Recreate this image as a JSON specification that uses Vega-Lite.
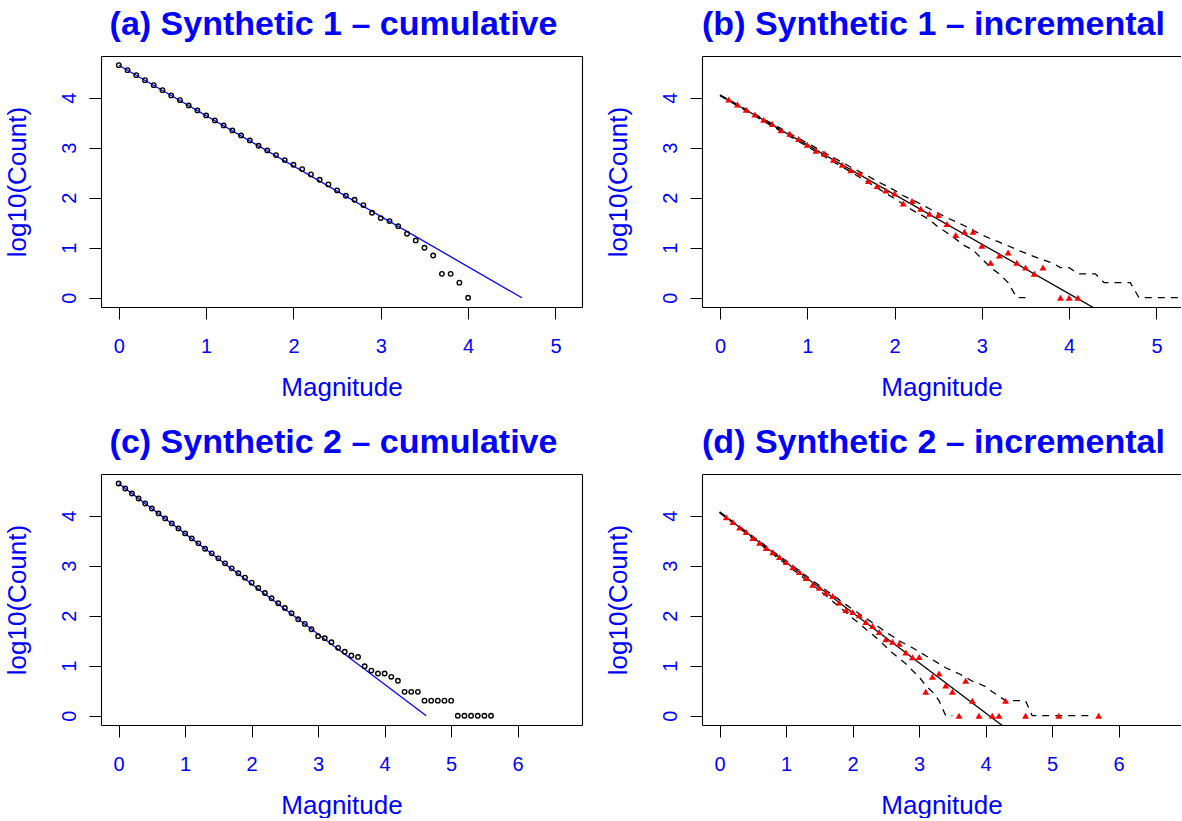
{
  "$schema": "https://vega.github.io/schema/vega-lite/v6.json",
  "padding": {"left": 4, "top": 7, "right": 0, "bottom": 0},
  "autosize": {"type": "pad"},
  "background": "white",
  "config": {
    "view": {"stroke": null},
    "font": "Liberation Sans",
    "axis": {"grid": false, "domainColor": "black", "domainWidth": 1.1, "tickColor": "black", "tickWidth": 1, "tickSize": 12, "labelColor": "#0000ff", "labelFont": "Liberation Sans", "labelFontSize": 20, "titleColor": "#0000ff", "titleFont": "Liberation Sans", "titleFontSize": 26, "titleFontWeight": "normal", "labelOverlap": false, "labelFlush": false},
    "axisX": {"labelBaseline": "alphabetic", "labelPadding": 33, "labelAngle": 0, "titleY": 88, "titleBaseline": "alphabetic"},
    "axisY": {"labelAngle": 270, "labelAlign": "center", "labelBaseline": "alphabetic", "labelPadding": 14, "titleX": -76, "titleAngle": 270, "titleBaseline": "alphabetic", "titleAlign": "center"},
    "title": {"font": "Liberation Sans", "fontSize": 34, "fontWeight": "bold", "color": "#0000ff", "anchor": "middle", "frame": "group", "offset": 14.5, "dx": -8, "baseline": "alphabetic"}
  },
  "bounds": "flush",
  "columns": 2,
  "spacing": {"row": 167, "column": 120},
  "datasets": {
    "cumA": [
      {"x":0.0,"y":4.653},{"x":0.1,"y":4.553},{"x":0.2,"y":4.453},{"x":0.3,"y":4.353},{"x":0.4,"y":4.253},{"x":0.5,"y":4.153},{"x":0.6,"y":4.047},{"x":0.7,"y":3.953},{"x":0.8,"y":3.847},{"x":0.9,"y":3.747},
      {"x":1.0,"y":3.647},{"x":1.1,"y":3.547},{"x":1.2,"y":3.447},{"x":1.3,"y":3.347},{"x":1.4,"y":3.247},{"x":1.5,"y":3.147},{"x":1.6,"y":3.04},{"x":1.7,"y":2.947},{"x":1.8,"y":2.853},{"x":1.9,"y":2.753},
      {"x":2.0,"y":2.66},{"x":2.1,"y":2.573},{"x":2.2,"y":2.467},{"x":2.3,"y":2.36},{"x":2.4,"y":2.267},{"x":2.5,"y":2.147},{"x":2.6,"y":2.04},{"x":2.7,"y":1.96},{"x":2.8,"y":1.853},{"x":2.9,"y":1.70},
      {"x":3.0,"y":1.593},{"x":3.1,"y":1.533},{"x":3.2,"y":1.431},{"x":3.3,"y":1.279},{"x":3.4,"y":1.146},{"x":3.5,"y":1.0},{"x":3.6,"y":0.845},{"x":3.7,"y":0.477},{"x":3.8,"y":0.477},{"x":3.9,"y":0.301},{"x":4.0,"y":0}
    ],
    "lineA": [{"x":0,"y":4.65},{"x":4.615,"y":0}],
    "incB": [
      {"x":0.1,"y":3.967},{"x":0.2,"y":3.867},{"x":0.3,"y":3.76},{"x":0.4,"y":3.667},{"x":0.5,"y":3.561},{"x":0.6,"y":3.474},{"x":0.7,"y":3.348},{"x":0.8,"y":3.281},{"x":0.9,"y":3.175},{"x":1.0,"y":3.062},
      {"x":1.1,"y":2.942},{"x":1.2,"y":2.882},{"x":1.3,"y":2.762},{"x":1.4,"y":2.662},{"x":1.5,"y":2.549},{"x":1.6,"y":2.483},{"x":1.7,"y":2.336},{"x":1.8,"y":2.236},{"x":1.9,"y":2.143},{"x":2.0,"y":2.083},
      {"x":2.1,"y":1.886},{"x":2.2,"y":1.934},{"x":2.3,"y":1.778},{"x":2.4,"y":1.681},{"x":2.5,"y":1.653},{"x":2.6,"y":1.477},{"x":2.7,"y":1.255},{"x":2.8,"y":1.322},{"x":2.9,"y":1.322},{"x":3.0,"y":1.041},
      {"x":3.1,"y":0.699},{"x":3.2,"y":0.845},{"x":3.3,"y":0.903},{"x":3.4,"y":0.699},{"x":3.5,"y":0.602},{"x":3.6,"y":0.477},{"x":3.7,"y":0.602},{"x":3.9,"y":0},{"x":4.0,"y":0},{"x":4.1,"y":0}
    ],
    "fitB": [{"x":0,"y":4.05},{"x":4.6,"y":-0.518}],
    "upB": [
      {"x":0.0,"y":4.058},{"x":0.1,"y":3.962},{"x":0.2,"y":3.865},{"x":0.3,"y":3.768},{"x":0.4,"y":3.672},{"x":0.5,"y":3.576},{"x":0.6,"y":3.479},{"x":0.7,"y":3.383},{"x":0.8,"y":3.286},{"x":0.9,"y":3.189},
      {"x":1.0,"y":3.093},{"x":1.1,"y":2.997},{"x":1.2,"y":2.9},{"x":1.3,"y":2.803},{"x":1.4,"y":2.707},{"x":1.5,"y":2.61},{"x":1.6,"y":2.52},{"x":1.7,"y":2.43},{"x":1.8,"y":2.33},{"x":1.9,"y":2.24},
      {"x":2.0,"y":2.15},{"x":2.1,"y":2.04},{"x":2.2,"y":1.96},{"x":2.3,"y":1.875},{"x":2.4,"y":1.78},{"x":2.5,"y":1.69},{"x":2.6,"y":1.6},{"x":2.7,"y":1.52},{"x":2.8,"y":1.44},{"x":2.9,"y":1.35},
      {"x":3.0,"y":1.255},{"x":3.1,"y":1.18},{"x":3.2,"y":1.11},{"x":3.3,"y":1.04},{"x":3.4,"y":0.96},{"x":3.5,"y":0.89},{"x":3.6,"y":0.82},{"x":3.7,"y":0.76},{"x":3.8,"y":0.7},{"x":3.9,"y":0.602},
      {"x":4.0,"y":0.602},{"x":4.1,"y":0.477},{"x":4.2,"y":0.477},{"x":4.3,"y":0.477},{"x":4.4,"y":0.301},{"x":4.5,"y":0.301},{"x":4.6,"y":0.301},{"x":4.7,"y":0.301},{"x":4.8,"y":0},{"x":4.9,"y":0},
      {"x":5.0,"y":0},{"x":5.1,"y":0},{"x":5.2,"y":0},{"x":5.3,"y":0},{"x":5.4,"y":0},{"x":5.5,"y":0}
    ],
    "loB": [
      {"x":0.0,"y":4.042},{"x":0.1,"y":3.94},{"x":0.2,"y":3.838},{"x":0.3,"y":3.736},{"x":0.4,"y":3.635},{"x":0.5,"y":3.533},{"x":0.6,"y":3.431},{"x":0.7,"y":3.329},{"x":0.8,"y":3.228},{"x":0.9,"y":3.125},
      {"x":1.0,"y":3.024},{"x":1.1,"y":2.922},{"x":1.2,"y":2.82},{"x":1.3,"y":2.718},{"x":1.4,"y":2.617},{"x":1.5,"y":2.516},{"x":1.6,"y":2.411},{"x":1.7,"y":2.307},{"x":1.8,"y":2.198},{"x":1.9,"y":2.088},
      {"x":2.0,"y":1.984},{"x":2.1,"y":1.87},{"x":2.2,"y":1.756},{"x":2.3,"y":1.663},{"x":2.4,"y":1.556},{"x":2.5,"y":1.415},{"x":2.6,"y":1.3},{"x":2.7,"y":1.176},{"x":2.8,"y":1.041},{"x":2.9,"y":0.954},
      {"x":3.0,"y":0.778},{"x":3.1,"y":0.602},{"x":3.2,"y":0.477},{"x":3.3,"y":0.301},{"x":3.4,"y":0},{"x":3.5,"y":0}
    ],
    "cumC": [
      {"x":0.0,"y":4.646},{"x":0.1,"y":4.546},{"x":0.2,"y":4.446},{"x":0.3,"y":4.346},{"x":0.4,"y":4.246},{"x":0.5,"y":4.146},{"x":0.6,"y":4.047},{"x":0.7,"y":3.947},{"x":0.8,"y":3.847},{"x":0.9,"y":3.747},
      {"x":1.0,"y":3.647},{"x":1.1,"y":3.547},{"x":1.2,"y":3.448},{"x":1.3,"y":3.341},{"x":1.4,"y":3.248},{"x":1.5,"y":3.148},{"x":1.6,"y":3.048},{"x":1.7,"y":2.948},{"x":1.8,"y":2.849},{"x":1.9,"y":2.762},
      {"x":2.0,"y":2.662},{"x":2.1,"y":2.556},{"x":2.2,"y":2.456},{"x":2.3,"y":2.349},{"x":2.4,"y":2.249},{"x":2.5,"y":2.156},{"x":2.6,"y":2.05},{"x":2.7,"y":1.93},{"x":2.8,"y":1.837},{"x":2.9,"y":1.73},
      {"x":3.0,"y":1.591},{"x":3.1,"y":1.551},{"x":3.2,"y":1.471},{"x":3.3,"y":1.358},{"x":3.4,"y":1.279},{"x":3.5,"y":1.204},{"x":3.6,"y":1.176},{"x":3.7,"y":0.991},{"x":3.8,"y":0.903},{"x":3.9,"y":0.845},
      {"x":4.0,"y":0.845},{"x":4.1,"y":0.778},{"x":4.2,"y":0.699},{"x":4.3,"y":0.477},{"x":4.4,"y":0.477},{"x":4.5,"y":0.477},{"x":4.6,"y":0.301},{"x":4.7,"y":0.301},{"x":4.8,"y":0.301},{"x":4.9,"y":0.301},
      {"x":5.0,"y":0.301},{"x":5.1,"y":0},{"x":5.2,"y":0},{"x":5.3,"y":0},{"x":5.4,"y":0},{"x":5.5,"y":0},{"x":5.6,"y":0}
    ],
    "lineC": [{"x":0,"y":4.646},{"x":4.625,"y":0}],
    "incD": [
      {"x":0.1,"y":3.973},{"x":0.2,"y":3.874},{"x":0.3,"y":3.767},{"x":0.4,"y":3.674},{"x":0.5,"y":3.554},{"x":0.6,"y":3.461},{"x":0.7,"y":3.354},{"x":0.8,"y":3.268},{"x":0.9,"y":3.175},{"x":1.0,"y":3.075},
      {"x":1.1,"y":2.968},{"x":1.2,"y":2.875},{"x":1.3,"y":2.755},{"x":1.4,"y":2.622},{"x":1.5,"y":2.562},{"x":1.6,"y":2.463},{"x":1.7,"y":2.396},{"x":1.8,"y":2.263},{"x":1.9,"y":2.116},{"x":2.0,"y":2.077},
      {"x":2.1,"y":2.01},{"x":2.2,"y":1.877},{"x":2.3,"y":1.797},{"x":2.4,"y":1.677},{"x":2.5,"y":1.531},{"x":2.6,"y":1.478},{"x":2.7,"y":1.438},{"x":2.8,"y":1.265},{"x":2.9,"y":1.171},{"x":3.0,"y":1.176},
      {"x":3.1,"y":0.477},{"x":3.2,"y":0.778},{"x":3.3,"y":0.845},{"x":3.4,"y":0.602},{"x":3.5,"y":0.477},{"x":3.6,"y":0},{"x":3.7,"y":0.699},{"x":3.8,"y":0.301},{"x":3.9,"y":0},{"x":4.1,"y":0},
      {"x":4.2,"y":0},{"x":4.3,"y":0.301},{"x":4.6,"y":0},{"x":5.1,"y":0},{"x":5.7,"y":0}
    ],
    "fitD": [{"x":0,"y":4.07},{"x":4.5,"y":-0.448}],
    "upD": [
      {"x":0.0,"y":4.078},{"x":0.1,"y":3.98},{"x":0.2,"y":3.881},{"x":0.3,"y":3.783},{"x":0.4,"y":3.684},{"x":0.5,"y":3.587},{"x":0.6,"y":3.489},{"x":0.7,"y":3.39},{"x":0.8,"y":3.292},{"x":0.9,"y":3.193},
      {"x":1.0,"y":3.095},{"x":1.1,"y":2.997},{"x":1.2,"y":2.898},{"x":1.3,"y":2.8},{"x":1.4,"y":2.701},{"x":1.5,"y":2.604},{"x":1.6,"y":2.509},{"x":1.7,"y":2.413},{"x":1.8,"y":2.318},{"x":1.9,"y":2.222},
      {"x":2.0,"y":2.13},{"x":2.1,"y":2.04},{"x":2.2,"y":1.95},{"x":2.3,"y":1.86},{"x":2.4,"y":1.77},{"x":2.5,"y":1.67},{"x":2.6,"y":1.59},{"x":2.7,"y":1.5},{"x":2.8,"y":1.43},{"x":2.9,"y":1.36},
      {"x":3.0,"y":1.28},{"x":3.1,"y":1.2},{"x":3.2,"y":1.12},{"x":3.3,"y":1.04},{"x":3.4,"y":0.96},{"x":3.5,"y":0.9},{"x":3.6,"y":0.84},{"x":3.7,"y":0.77},{"x":3.8,"y":0.69},{"x":3.9,"y":0.64},
      {"x":4.0,"y":0.58},{"x":4.1,"y":0.48},{"x":4.2,"y":0.39},{"x":4.3,"y":0.301},{"x":4.4,"y":0.301},{"x":4.5,"y":0.301},{"x":4.6,"y":0.301},{"x":4.7,"y":0},{"x":4.8,"y":0},{"x":4.9,"y":0},
      {"x":5.0,"y":0},{"x":5.1,"y":0},{"x":5.2,"y":0},{"x":5.3,"y":0},{"x":5.4,"y":0},{"x":5.5,"y":0},{"x":5.6,"y":0}
    ],
    "loD": [
      {"x":0.0,"y":4.062},{"x":0.1,"y":3.959},{"x":0.2,"y":3.855},{"x":0.3,"y":3.752},{"x":0.4,"y":3.648},{"x":0.5,"y":3.545},{"x":0.6,"y":3.442},{"x":0.7,"y":3.338},{"x":0.8,"y":3.235},{"x":0.9,"y":3.131},
      {"x":1.0,"y":3.028},{"x":1.1,"y":2.925},{"x":1.2,"y":2.821},{"x":1.3,"y":2.718},{"x":1.4,"y":2.614},{"x":1.5,"y":2.509},{"x":1.6,"y":2.399},{"x":1.7,"y":2.288},{"x":1.8,"y":2.178},{"x":1.9,"y":2.067},
      {"x":2.0,"y":1.95},{"x":2.1,"y":1.845},{"x":2.2,"y":1.73},{"x":2.3,"y":1.623},{"x":2.4,"y":1.505},{"x":2.5,"y":1.38},{"x":2.6,"y":1.255},{"x":2.7,"y":1.146},{"x":2.8,"y":1.04},{"x":2.9,"y":0.903},
      {"x":3.0,"y":0.778},{"x":3.1,"y":0.602},{"x":3.2,"y":0.477},{"x":3.3,"y":0.301},{"x":3.4,"y":0},{"x":3.5,"y":0}
    ]
  },
  "concat": [
    {
      "width": 481, "height": 251,
      "title": {"text": "(a) Synthetic 1 – cumulative"},
      "resolve": {"axis": {"x": "independent", "y": "independent"}},
      "layer": [
        {
          "data": {"name": "lineA"},
          "mark": {"type": "line", "color": "#0000ff", "strokeWidth": 1.3, "clip": true},
          "encoding": {
            "x": {"field": "x", "type": "quantitative", "scale": {"domain": [-0.204, 5.304], "nice": false, "zero": false}, "axis": {"values": [0, 1, 2, 3, 4, 5], "title": "Magnitude"}},
            "y": {"field": "y", "type": "quantitative", "scale": {"domain": [-0.186, 4.836], "nice": false, "zero": false}, "axis": {"values": [0, 1, 2, 3, 4], "title": "log10(Count)"}}
          }
        },
        {
          "data": {"name": "cumA"},
          "mark": {"type": "point", "shape": "circle", "filled": false, "color": "black", "size": 20, "strokeWidth": 1.4, "opacity": 1, "clip": true},
          "encoding": {
            "x": {"field": "x", "type": "quantitative", "scale": {"domain": [-0.204, 5.304], "nice": false, "zero": false}, "axis": {"orient": "top", "labels": false, "ticks": false, "title": null}},
            "y": {"field": "y", "type": "quantitative", "scale": {"domain": [-0.186, 4.836], "nice": false, "zero": false}, "axis": {"orient": "right", "labels": false, "ticks": false, "title": null}}
          }
        }
      ]
    },
    {
      "width": 479, "height": 251,
      "title": {"text": "(b) Synthetic 1 – incremental"},
      "resolve": {"axis": {"x": "independent", "y": "independent"}},
      "layer": [
        {
          "data": {"name": "fitB"},
          "mark": {"type": "line", "color": "black", "strokeWidth": 1.3, "clip": true},
          "encoding": {
            "x": {"field": "x", "type": "quantitative", "scale": {"domain": [-0.206, 5.281], "nice": false, "zero": false}, "axis": {"values": [0, 1, 2, 3, 4, 5], "title": "Magnitude"}},
            "y": {"field": "y", "type": "quantitative", "scale": {"domain": [-0.186, 4.836], "nice": false, "zero": false}, "axis": {"values": [0, 1, 2, 3, 4], "title": "log10(Count)"}}
          }
        },
        {
          "data": {"name": "upB"},
          "mark": {"type": "line", "color": "black", "strokeWidth": 1.3, "strokeDash": [7, 6], "clip": true},
          "encoding": {
            "x": {"field": "x", "type": "quantitative", "scale": {"domain": [-0.206, 5.281], "nice": false, "zero": false}, "axis": null},
            "y": {"field": "y", "type": "quantitative", "scale": {"domain": [-0.186, 4.836], "nice": false, "zero": false}, "axis": null}
          }
        },
        {
          "data": {"name": "loB"},
          "mark": {"type": "line", "color": "black", "strokeWidth": 1.3, "strokeDash": [7, 6], "clip": true},
          "encoding": {
            "x": {"field": "x", "type": "quantitative", "scale": {"domain": [-0.206, 5.281], "nice": false, "zero": false}, "axis": null},
            "y": {"field": "y", "type": "quantitative", "scale": {"domain": [-0.186, 4.836], "nice": false, "zero": false}, "axis": null}
          }
        },
        {
          "data": {"name": "incB"},
          "mark": {"type": "point", "shape": "triangle-up", "filled": true, "color": "#ff0000", "size": 48, "opacity": 1, "clip": true},
          "encoding": {
            "x": {"field": "x", "type": "quantitative", "scale": {"domain": [-0.206, 5.281], "nice": false, "zero": false}, "axis": {"orient": "top", "labels": false, "ticks": false, "title": null}},
            "y": {"field": "y", "type": "quantitative", "scale": {"domain": [-0.186, 4.836], "nice": false, "zero": false}, "axis": null}
          }
        }
      ]
    },
    {
      "width": 481, "height": 251,
      "title": {"text": "(c) Synthetic 2 – cumulative"},
      "resolve": {"axis": {"x": "independent", "y": "independent"}},
      "layer": [
        {
          "data": {"name": "lineC"},
          "mark": {"type": "line", "color": "#0000ff", "strokeWidth": 1.3, "clip": true},
          "encoding": {
            "x": {"field": "x", "type": "quantitative", "scale": {"domain": [-0.265, 6.968], "nice": false, "zero": false}, "axis": {"values": [0, 1, 2, 3, 4, 5, 6], "title": "Magnitude"}},
            "y": {"field": "y", "type": "quantitative", "scale": {"domain": [-0.186, 4.836], "nice": false, "zero": false}, "axis": {"values": [0, 1, 2, 3, 4], "title": "log10(Count)"}}
          }
        },
        {
          "data": {"name": "cumC"},
          "mark": {"type": "point", "shape": "circle", "filled": false, "color": "black", "size": 20, "strokeWidth": 1.4, "opacity": 1, "clip": true},
          "encoding": {
            "x": {"field": "x", "type": "quantitative", "scale": {"domain": [-0.265, 6.968], "nice": false, "zero": false}, "axis": {"orient": "top", "labels": false, "ticks": false, "title": null}},
            "y": {"field": "y", "type": "quantitative", "scale": {"domain": [-0.186, 4.836], "nice": false, "zero": false}, "axis": {"orient": "right", "labels": false, "ticks": false, "title": null}}
          }
        }
      ]
    },
    {
      "width": 479, "height": 251,
      "title": {"text": "(d) Synthetic 2 – incremental"},
      "resolve": {"axis": {"x": "independent", "y": "independent"}},
      "layer": [
        {
          "data": {"name": "fitD"},
          "mark": {"type": "line", "color": "black", "strokeWidth": 1.3, "clip": true},
          "encoding": {
            "x": {"field": "x", "type": "quantitative", "scale": {"domain": [-0.265, 6.938], "nice": false, "zero": false}, "axis": {"values": [0, 1, 2, 3, 4, 5, 6], "title": "Magnitude"}},
            "y": {"field": "y", "type": "quantitative", "scale": {"domain": [-0.186, 4.836], "nice": false, "zero": false}, "axis": {"values": [0, 1, 2, 3, 4], "title": "log10(Count)"}}
          }
        },
        {
          "data": {"name": "upD"},
          "mark": {"type": "line", "color": "black", "strokeWidth": 1.3, "strokeDash": [7, 6], "clip": true},
          "encoding": {
            "x": {"field": "x", "type": "quantitative", "scale": {"domain": [-0.265, 6.938], "nice": false, "zero": false}, "axis": null},
            "y": {"field": "y", "type": "quantitative", "scale": {"domain": [-0.186, 4.836], "nice": false, "zero": false}, "axis": null}
          }
        },
        {
          "data": {"name": "loD"},
          "mark": {"type": "line", "color": "black", "strokeWidth": 1.3, "strokeDash": [7, 6], "clip": true},
          "encoding": {
            "x": {"field": "x", "type": "quantitative", "scale": {"domain": [-0.265, 6.938], "nice": false, "zero": false}, "axis": null},
            "y": {"field": "y", "type": "quantitative", "scale": {"domain": [-0.186, 4.836], "nice": false, "zero": false}, "axis": null}
          }
        },
        {
          "data": {"name": "incD"},
          "mark": {"type": "point", "shape": "triangle-up", "filled": true, "color": "#ff0000", "size": 48, "opacity": 1, "clip": true},
          "encoding": {
            "x": {"field": "x", "type": "quantitative", "scale": {"domain": [-0.265, 6.938], "nice": false, "zero": false}, "axis": {"orient": "top", "labels": false, "ticks": false, "title": null}},
            "y": {"field": "y", "type": "quantitative", "scale": {"domain": [-0.186, 4.836], "nice": false, "zero": false}, "axis": null}
          }
        }
      ]
    }
  ]
}
